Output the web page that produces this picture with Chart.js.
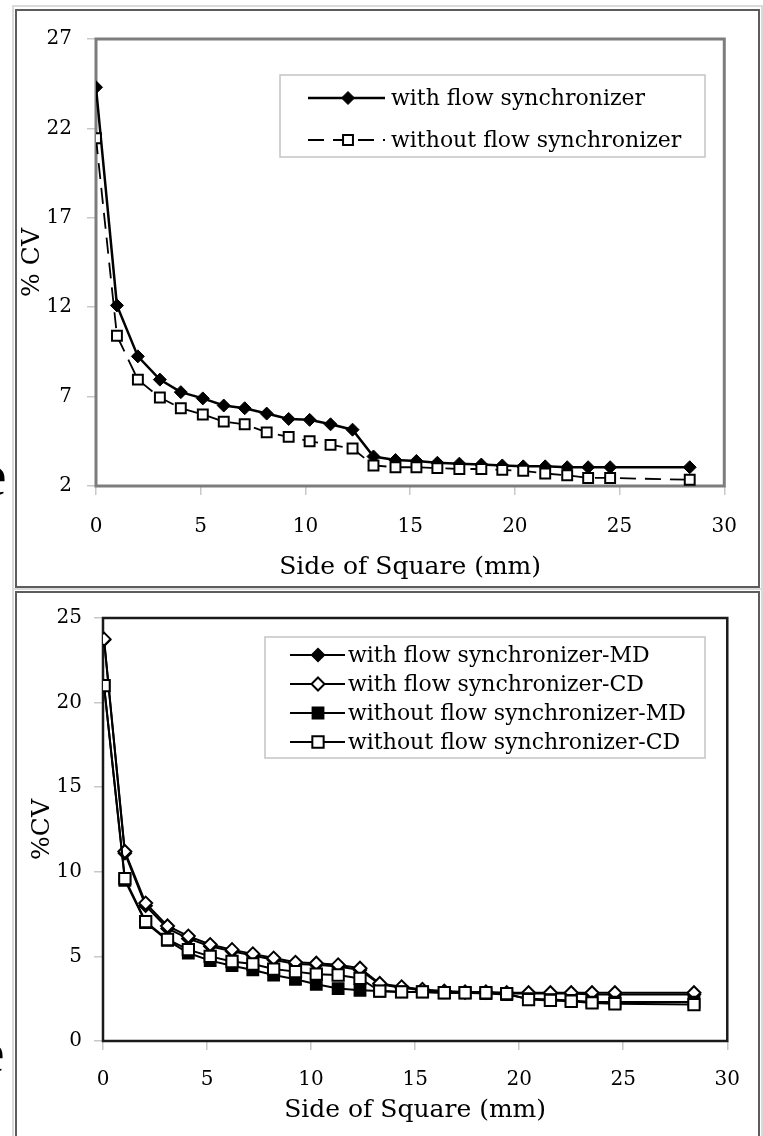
<!DOCTYPE html>
<html>
<head>
<meta charset="utf-8">
<script src="https://cdn.jsdelivr.net/npm/chart.js@4.4.1/dist/chart.umd.min.js"></script>
<style>
body { margin: 0; background: #fff; width: 763px; height: 1136px; overflow: hidden; position: relative; }
.box { position: absolute; box-sizing: border-box; }
.light { border: 2px solid #dadada; }
.dark { border: 2px solid #5c5c5c; }
.wrap { position: absolute; }
.frag { position: absolute; font-family: "Liberation Serif", serif; font-size: 60px; line-height: 60px; color: #000; }
</style>
</head>
<body>
<div class="box light" style="left:12px; top:5px; width:751px; height:585px;"></div>
<div class="box dark" style="left:15px; top:9px; width:745px; height:579px;"></div>
<div class="box light" style="left:12px; top:588px; width:751px; height:560px;"></div>
<div class="box dark" style="left:15px; top:591px; width:745px; height:560px;"></div>

<span class="frag" style="left:-20px; top:445px;">e</span>
<span class="frag" style="left:-22px; top:1022px;">e</span>

<div class="wrap" style="left:17px; top:12px; width:740px; height:574px;"><canvas id="topChart"></canvas></div>
<div class="wrap" style="left:17px; top:594px; width:741px; height:542px;"><canvas id="bottomChart"></canvas></div>

<script>
// side of square (mm)
const sideTop = [0, 1.0, 2.0, 3.05, 4.05, 5.1, 6.1, 7.1, 8.15, 9.2, 10.2, 11.2, 12.25, 13.25, 14.3, 15.3, 16.3, 17.35, 18.4, 19.4, 20.4, 21.45, 22.5, 23.5, 24.55, 28.35];
const cvWith = [24.3, 12.1, 9.25, 7.95, 7.25, 6.9, 6.5, 6.35, 6.05, 5.75, 5.7, 5.45, 5.15, 3.65, 3.45, 3.4, 3.3, 3.25, 3.2, 3.15, 3.1, 3.1, 3.05, 3.05, 3.05, 3.05];
const cvWithout = [21.45, 10.4, 7.95, 6.95, 6.35, 6.0, 5.6, 5.45, 5.0, 4.75, 4.5, 4.3, 4.1, 3.15, 3.05, 3.05, 3.0, 2.95, 2.95, 2.9, 2.85, 2.7, 2.6, 2.45, 2.45, 2.35];

const sideBottom = [0.05, 1.05, 2.05, 3.1, 4.1, 5.15, 6.2, 7.2, 8.2, 9.25, 10.25, 11.3, 12.35, 13.3, 14.35, 15.35, 16.4, 17.4, 18.4, 19.4, 20.45, 21.5, 22.5, 23.5, 24.6, 28.4];
const cvWithMD = [23.7, 11.1, 8.0, 6.65, 6.05, 5.6, 5.3, 5.05, 4.8, 4.55, 4.5, 4.4, 4.2, 3.35, 3.15, 3.0, 2.9, 2.85, 2.85, 2.8, 2.8, 2.8, 2.8, 2.75, 2.75, 2.75];
const cvWithCD = [23.75, 11.2, 8.15, 6.8, 6.2, 5.7, 5.4, 5.15, 4.9, 4.65, 4.6, 4.5, 4.3, 3.4, 3.2, 3.05, 2.95, 2.9, 2.9, 2.85, 2.85, 2.85, 2.85, 2.85, 2.85, 2.85];
const cvWithoutMD = [21.0, 9.5, 7.0, 5.95, 5.2, 4.75, 4.45, 4.2, 3.9, 3.65, 3.35, 3.1, 3.0, 2.95, 2.9, 2.9, 2.85, 2.85, 2.8, 2.75, 2.5, 2.45, 2.4, 2.3, 2.3, 2.3];
const cvWithoutCD = [21.0, 9.6, 7.05, 6.0, 5.4, 5.0, 4.7, 4.55, 4.25, 4.1, 3.95, 3.9, 3.7, 2.95, 2.9, 2.9, 2.85, 2.85, 2.85, 2.8, 2.45, 2.4, 2.35, 2.25, 2.2, 2.15];

const xTitle = 'Side of Square (mm)';

Chart.defaults.font.family = '"DejaVu Serif", serif';
Chart.defaults.color = '#000';

function pts(xs, ys) {
    return xs.map((x, i) => ({ x: x, y: ys[i] }));
}

function marker(ctx, style, r, x, y) {
    ctx.beginPath();
    if (style === 'rectRot') {
        ctx.moveTo(x, y - r); ctx.lineTo(x + r, y); ctx.lineTo(x, y + r); ctx.lineTo(x - r, y);
    } else {
        const s = Math.SQRT1_2 * r;
        ctx.rect(x - s, y - s, 2 * s, 2 * s);
    }
    ctx.closePath();
    ctx.fill();
    ctx.stroke();
}

// legend box drawn inside the plot, like Excel does
const insideLegend = {
    id: 'insideLegend',
    afterDraw(chart, args, o) {
        const ctx = chart.ctx;
        ctx.save();
        ctx.fillStyle = '#fff';
        ctx.fillRect(o.x, o.y, o.w, o.h);
        ctx.strokeStyle = '#c4c4c4';
        ctx.lineWidth = 1.5;
        ctx.strokeRect(o.x, o.y, o.w, o.h);
        chart.data.datasets.forEach((ds, i) => {
            const y = o.y + o.first + i * o.gap;
            ctx.strokeStyle = '#000';
            ctx.lineWidth = ds.borderWidth;
            ctx.setLineDash(ds.borderDash || []);
            ctx.beginPath();
            ctx.moveTo(o.lineFrom, y);
            ctx.lineTo(o.lineTo, y);
            ctx.stroke();
            ctx.setLineDash([]);
            ctx.fillStyle = ds.pointBackgroundColor;
            ctx.lineWidth = ds.pointBorderWidth;
            marker(ctx, ds.pointStyle, ds.pointRadius, o.markX, y);
            ctx.fillStyle = '#000';
            ctx.font = o.font;
            ctx.textBaseline = 'middle';
            ctx.fillText(ds.label, o.textX, y + 1);
        });
        ctx.restore();
    }
};

const plotFrame = {
    id: 'plotFrame',
    beforeDatasetsDraw(chart, args, o) {
        const { ctx, chartArea: a } = chart;
        ctx.save();
        ctx.strokeStyle = o.color;
        ctx.lineWidth = o.width;
        ctx.strokeRect(a.left, a.top, a.right - a.left, a.bottom - a.top);
        ctx.restore();
    }
};

function axes(yMin, yMax, yTitle, s) {
    return {
        x: {
            type: 'linear', min: 0, max: 30,
            ticks: { stepSize: 5, padding: s.xPad, font: { size: 20 } },
            grid: { drawOnChartArea: false, tickLength: 9, color: '#c8c8c8', lineWidth: 1.5 },
            border: { display: false },
            title: { display: true, text: xTitle, font: { size: 25 }, padding: { top: 0, bottom: s.xTitlePad } },
            afterFit: (sc) => { sc.height = s.xHeight; }
        },
        y: {
            min: yMin, max: yMax,
            ticks: { stepSize: 5, padding: s.yPad, font: { size: 20 } },
            grid: { drawOnChartArea: false, tickLength: 9, color: '#c8c8c8', lineWidth: 1.5 },
            border: { display: false },
            title: { display: true, text: yTitle, font: { size: 25 }, padding: { top: s.yTitlePad, bottom: 0 } },
            afterFit: (sc) => { sc.width = s.yWidth; }
        }
    };
}

new Chart(document.getElementById('topChart'), {
    type: 'line',
    data: {
        datasets: [
            {
                label: 'with flow synchronizer',
                data: pts(sideTop, cvWith),
                borderColor: '#000', borderWidth: 2.5, tension: 0,
                pointStyle: 'rectRot', pointRadius: 6.5, pointBackgroundColor: '#000',
                pointBorderColor: '#000', pointBorderWidth: 1, order: 2
            },
            {
                label: 'without flow synchronizer',
                data: pts(sideTop, cvWithout),
                borderColor: '#000', borderWidth: 1.8, borderDash: [16, 9], tension: 0,
                pointStyle: 'rect', pointRadius: 7, pointBackgroundColor: '#fff',
                pointBorderColor: '#000', pointBorderWidth: 2, order: 1
            }
        ]
    },
    options: {
        responsive: true,
        maintainAspectRatio: false,
        animation: false,
        events: [],
        layout: { padding: { top: 13, right: 12, left: 0, bottom: 0 } },
        scales: axes(2, 27, '% CV', { xPad: 20, yPad: 15, xHeight: 100, yWidth: 79, xTitlePad: 4, yTitlePad: 0 }),
        plugins: {
            legend: { display: false },
            tooltip: { enabled: false },
            plotFrame: { color: '#7d7d7d', width: 3 },
            insideLegend: { x: 263, y: 63, w: 425, h: 82, first: 23, gap: 42, lineFrom: 291, lineTo: 368, markX: 331, textX: 374, font: '22px "DejaVu Serif"' }
        }
    },
    plugins: [plotFrame, insideLegend]
});

new Chart(document.getElementById('bottomChart'), {
    type: 'line',
    data: {
        datasets: [
            {
                label: 'with flow synchronizer-MD',
                data: pts(sideBottom, cvWithMD),
                borderColor: '#000', borderWidth: 2, tension: 0,
                pointStyle: 'rectRot', pointRadius: 6.5, pointBackgroundColor: '#000',
                pointBorderColor: '#000', pointBorderWidth: 1.5, order: 4
            },
            {
                label: 'with flow synchronizer-CD',
                data: pts(sideBottom, cvWithCD),
                borderColor: '#000', borderWidth: 2, tension: 0,
                pointStyle: 'rectRot', pointRadius: 6.5, pointBackgroundColor: '#fff',
                pointBorderColor: '#000', pointBorderWidth: 2, order: 3
            },
            {
                label: 'without flow synchronizer-MD',
                data: pts(sideBottom, cvWithoutMD),
                borderColor: '#000', borderWidth: 2, tension: 0,
                pointStyle: 'rect', pointRadius: 8, pointBackgroundColor: '#000',
                pointBorderColor: '#000', pointBorderWidth: 1.5, order: 2
            },
            {
                label: 'without flow synchronizer-CD',
                data: pts(sideBottom, cvWithoutCD),
                borderColor: '#000', borderWidth: 2, tension: 0,
                pointStyle: 'rect', pointRadius: 8, pointBackgroundColor: '#fff',
                pointBorderColor: '#000', pointBorderWidth: 2, order: 1
            }
        ]
    },
    options: {
        responsive: true,
        maintainAspectRatio: false,
        animation: false,
        events: [],
        layout: { padding: { top: 12, right: 23, left: 0, bottom: 0 } },
        scales: axes(0, 25, '%CV', { xPad: 18, yPad: 12, xHeight: 95, yWidth: 86, xTitlePad: 11, yTitlePad: 10 }),
        plugins: {
            legend: { display: false },
            tooltip: { enabled: false },
            plotFrame: { color: '#1a1a1a', width: 2.5 },
            insideLegend: { x: 248, y: 43, w: 440, h: 121, first: 18, gap: 29, lineFrom: 273, lineTo: 328, markX: 301, textX: 331, font: '22px "DejaVu Serif"' }
        }
    },
    plugins: [plotFrame, insideLegend]
});
</script>
</body>
</html>
